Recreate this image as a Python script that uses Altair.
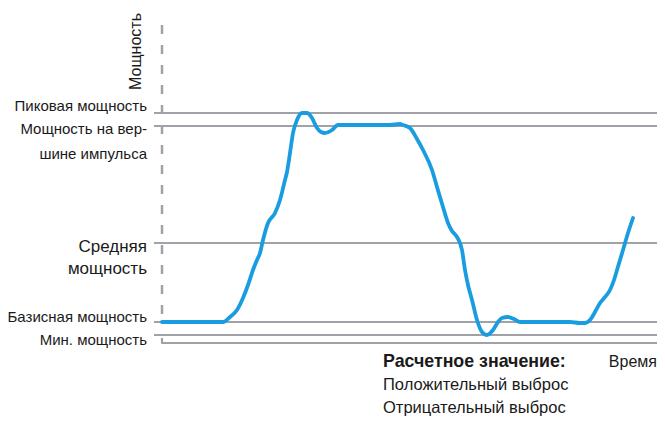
import altair as alt
import pandas as pd

# ---- data (relative units: time ticks, power units) ----
time = [0, 28, 53, 61, 68, 75, 81, 86, 91, 95, 98, 101, 106, 113, 118, 123, 125, 128, 131, 135,
        140, 145, 150, 155, 159, 163, 170, 176, 183, 208, 228, 238, 241, 248, 255, 261, 270, 275,
        281, 286, 290, 295, 300, 303, 306, 310, 315, 320, 325, 331, 336, 340, 346, 352, 358, 371,
        388, 408, 418, 423, 428, 433, 438, 443, 448, 452, 455, 458, 461, 466, 471]
power = [21, 21, 21, 21, 26, 33, 45, 58, 73, 83, 90, 103, 120, 130, 143, 163, 171, 190, 210, 223,
         230, 230, 225, 215, 211, 210, 213, 218, 218, 218, 218, 219, 218, 215, 204, 193, 173, 156,
         136, 120, 112, 106, 93, 73, 58, 43, 23, 11, 8, 13, 21, 25, 26, 24, 21, 21,
         21, 21, 20, 20, 23, 31, 40, 46, 53, 63, 73, 83, 93, 110, 125]

level_values = [230, 217, 100, 21, 8]
level_labels = [["Пиковая мощность"], ["Мощность на вер-", "шине импульса"],
                ["Средняя", "мощность"], ["Базисная мощность"], ["Мин. мощность"]]

axis_top = 318
axis_bottom = 18
time_end = 495
frame_t = [0, 0, time_end]
frame_p = [5, 0, 0]

y_title = "Мощность"
x_title = "Время"
note_lines = ["Расчетное значение:", "Положительный выброс", "Отрицательный выброс"]

# ---- styling ----
GRAY = "#9fa3a8"
BLUE = "#1a9de0"
FONT = "Liberation Sans"
TXT = "#1a1a1a"

xs = alt.Scale(domain=[-8, time_end], nice=False, zero=False)
ys = alt.Scale(domain=[-2, 323], nice=False, zero=False)

curve_df = pd.DataFrame({"t": time, "p": power})
levels_df = pd.DataFrame({"level": level_values})
axis_df = pd.DataFrame({"t": [0], "top": [axis_top], "bottom": [axis_bottom]})
frame_df = pd.DataFrame({"t": frame_t, "p": frame_p, "i": range(len(frame_t))})

rules = alt.Chart(levels_df).mark_rule(color=GRAY, strokeWidth=2.2).encode(
    y=alt.Y("level:Q", scale=ys, axis=None)
)

vaxis = alt.Chart(axis_df).mark_rule(color=GRAY, strokeWidth=2.5, strokeDash=[9, 11]).encode(
    x=alt.X("t:Q", scale=xs, axis=None),
    y=alt.Y("top:Q", scale=ys, axis=None),
    y2="bottom:Q",
)

frame = alt.Chart(frame_df).mark_line(color=GRAY, strokeWidth=2.2, strokeJoin="round").encode(
    x=alt.X("t:Q", scale=xs, axis=None),
    y=alt.Y("p:Q", scale=ys, axis=None),
    order="i:O",
)

curve = alt.Chart(curve_df).mark_line(color=BLUE, strokeWidth=3.8, interpolate="monotone",
                                      strokeCap="round").encode(
    x=alt.X("t:Q", scale=xs, axis=None),
    y=alt.Y("p:Q", scale=ys, axis=None),
)

# label styles: (line dy offsets, font size)
label_styles = [([-2], 15), ([8, 33], 15), ([9, 31], 17), ([0], 15), ([10], 15)]

layers = [rules, vaxis, frame, curve]
for val, lines, (dys, size) in zip(level_values, level_labels, label_styles):
    for line, dy in zip(lines, dys):
        layers.append(
            alt.Chart(pd.DataFrame({"level": [val], "txt": [line]})).mark_text(
                align="right", baseline="alphabetic", dy=dy, fontSize=size, font=FONT, color=TXT
            ).encode(
                x=alt.value(-7),
                y=alt.Y("level:Q", scale=ys, axis=None),
                text="txt:N",
            )
        )

layers.append(
    alt.Chart(pd.DataFrame({"txt": [y_title]})).mark_text(
        align="right", baseline="alphabetic", angle=270, fontSize=16, font=FONT, color=TXT
    ).encode(x=alt.value(-13), y=alt.value(-7), text="txt:N")
)
layers.append(
    alt.Chart(pd.DataFrame({"txt": [x_title]})).mark_text(
        align="right", baseline="alphabetic", fontSize=16, font=FONT, color=TXT
    ).encode(x=alt.value(503), y=alt.value(347), text="txt:N")
)
note_sizes = [17.8, 16.5, 16.5]
for k, line in enumerate(note_lines):
    layers.append(
        alt.Chart(pd.DataFrame({"txt": [line]})).mark_text(
            align="left", baseline="alphabetic", fontSize=note_sizes[k], font=FONT, color=TXT,
            fontWeight="bold" if k == 0 else "normal", dy=23 * k
        ).encode(x=alt.value(229), y=alt.value(347), text="txt:N")
    )

chart = alt.layer(*layers).properties(
    width=503, height=325,
    autosize=alt.AutoSizeParams(type="none"),
    padding={"left": 146, "top": 12, "right": 0, "bottom": 72},
).configure_view(stroke=None)

chart.save("out.html", embed_options={"renderer": "svg", "actions": False})
